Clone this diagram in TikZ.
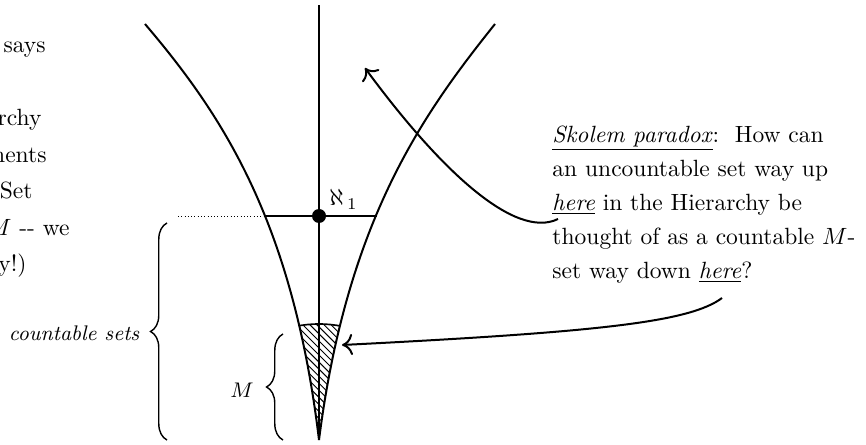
\documentclass[tikz,border=0pt]{standalone}
\usepackage{amsmath,amssymb}
\usetikzlibrary{arrows.meta,patterns,decorations.pathreplacing,calc}
\tikzset{
  >={To[length=4.5pt,width=9pt]},
  curve/.style={line width=0.85pt},
  arr/.style={->,line width=0.85pt},
  brc/.style={decorate,decoration={brace,amplitude=7pt},line width=0.6pt},
  frag/.style={anchor=base east,inner sep=0pt,font=\fontsize{10}{15.5}\selectfont},
}

\begin{document}
\begin{tikzpicture}[x=0.4255pt,y=-0.4255pt,
  note/.style={anchor=north west,align=left,inner sep=0pt,
    font=\fontsize{10}{14.5}\selectfont},
  lab/.style={inner sep=0pt,font=\small}]
  \useasboundingbox (0,0) rectangle (866,445);

  % the hierarchy
  \coordinate (apex) at (319,440);
  \coordinate (top) at (319,5);
  \coordinate (ltop) at (145,24);
  \coordinate (rtop) at (495,24);
  \coordinate (lx) at (265,216);
  \coordinate (rx) at (377,216);
  \coordinate (dot) at (319,216);
  \draw[curve] (apex) -- (top);
  \draw[curve] (apex) .. controls (292.6,220) and (221.5,114) .. (ltop);
  \draw[curve] (apex) .. controls (347,220) and (423,114) .. (rtop);

  % M, hatched
  \begin{scope}
    \clip (ltop) .. controls (221.5,114) and (292.6,220) .. (apex)
      .. controls (347,220) and (423,114) .. (rtop) -- cycle;
    \fill[pattern=north west lines] (apex) circle[radius=116];
    \draw[line width=0.7pt] (apex) circle[radius=116];
  \end{scope}

  % aleph_1
  \draw[densely dotted,thin] (178,216) -- (lx);
  \draw[curve] (lx) -- (rx);
  \fill (dot) circle[radius=7];
  \node[anchor=base west,inner sep=0pt] (aleph) at (329,206) {$\aleph_{\,1}$};

  % braces
  \draw[brc] (167,440) -- (167,223);
  \node[lab,anchor=east] (cs) at (140,333) {\textit{countable sets}};
  \draw[brc] (283,440) -- (283,334);
  \node[lab] (mlab) at (242,390) {$M$};

  % left text
  \node[frag] (t1) at (46,53) {says};
  \node[frag] (t2) at (42,126) {rchy};
  \node[frag] (t3) at (47,162.5) {ments};
  \node[frag] (t4) at (33,199) {Set};
  \node[frag] (t5) at (70,236) {$M$ -{}- we};
  \node[frag] (t6) at (27,272) {y!)};

  % Skolem paradox
  \node[note] (skolem) at (552,125) {%
    \underline{\textit{Skolem paradox}}:\ \ How can\\
    an uncountable set way up\\
    \underline{\textit{here}} in the Hierarchy be\\
    thought of as a countable $M$-\\
    set way down \underline{\textit{here}}?};
  \coordinate (hereA) at (558,219);
  \coordinate (hereB) at (722,298);
  \coordinate (tipA) at (365,68);
  \coordinate (tipB) at (342,345);
  \draw[arr] (hereA) .. controls (515,240) and (440,170) .. (tipA);
  \draw[arr] (hereB) .. controls (690,322) and (600,332) .. (tipB);
\end{tikzpicture}
\end{document}
